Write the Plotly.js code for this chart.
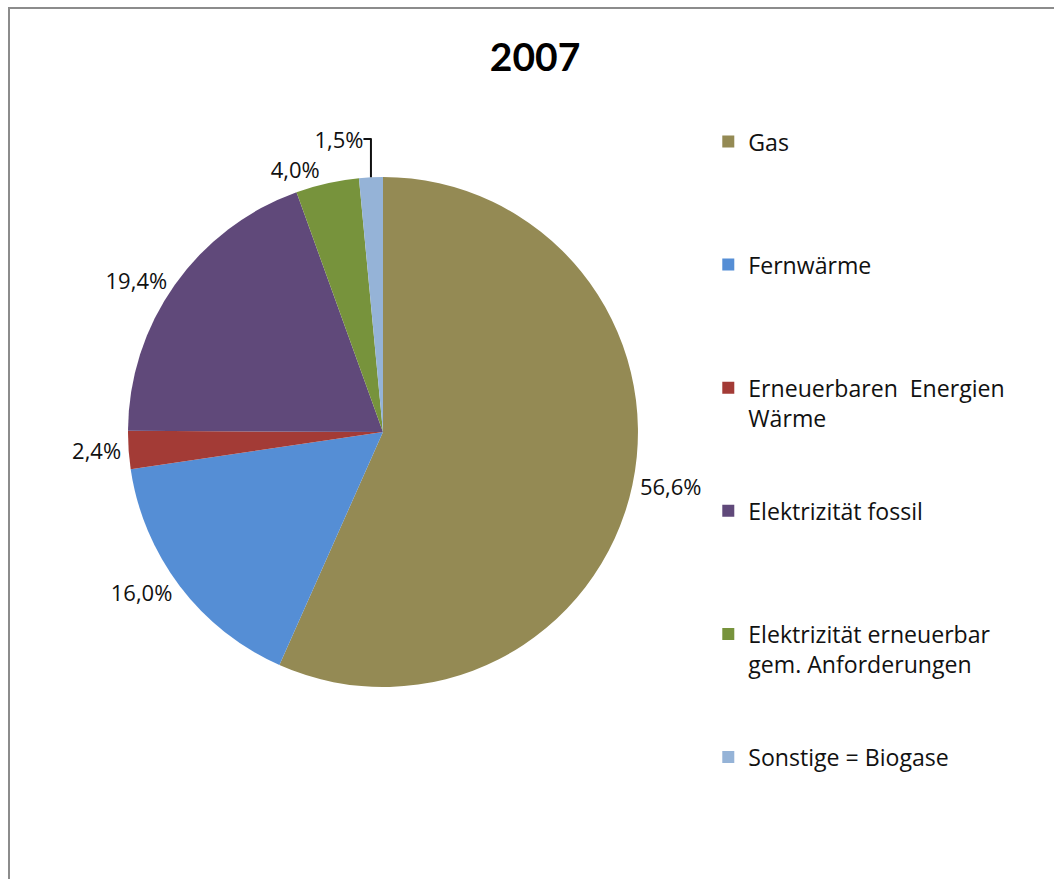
<!DOCTYPE html>
<html>
<head>
<meta charset="utf-8">
<script src="https://cdn.plot.ly/plotly-3.0.1.min.js"></script>
<style>
  html, body { margin: 0; padding: 0; background: #fff; overflow: hidden; }
  #chart { width: 1054px; height: 879px; position: absolute; left: 0; top: 0; }
  #frame { position: absolute; left: 8px; top: 7px; width: 1200px; height: 1000px;
           border: 2px solid #8c8c8c; pointer-events: none; box-sizing: border-box; }
</style>
</head>
<body>
<div id="chart"></div>
<div id="frame"></div>
<script>
// Data (values in percent, clockwise from 12 o'clock)
const chartTitle = "2007";
const categories = [
  "Gas",
  "Fernwärme",
  "Erneuerbaren  Energien<br>Wärme",
  "Elektrizität fossil",
  "Elektrizität erneuerbar<br>gem. Anforderungen",
  "Sonstige = Biogase"
];
const shares = [56.6, 16.0, 2.4, 19.4, 4.0, 1.5];
const colors = ["#948A54", "#558ED5", "#A33B36", "#60497A", "#77933C", "#95B3D7"];

// Pad legend labels to equal line count so entries are evenly spaced
const LINES = 4;
const legendLabels = categories.map(function (c) {
  const n = c.split("<br>").length;
  let s = c;
  for (let i = n; i < LINES; i++) s += "<br>\u00a0";
  return s;
});

const FONT = "'Open Sans', Lato, 'DejaVu Sans', sans-serif";
const TITLE_FONT = "Lato, 'Open Sans', sans-serif";

const trace = {
  type: "pie",
  labels: legendLabels,
  values: shares,
  sort: false,
  direction: "clockwise",
  rotation: 0,
  marker: { colors: colors, line: { width: 0 } },
  textposition: "outside",
  texttemplate: "%{value:.1f}%",
  outsidetextfont: { family: FONT, size: 22, color: "#111" },
  hoverinfo: "label+value",
  domain: { x: [0.1214, 0.6053], y: [0.2184, 0.7986] },
  automargin: false
};

const layout = {
  width: 1054,
  height: 879,
  margin: { l: 0, r: 0, t: 0, b: 0 },
  paper_bgcolor: "#ffffff",
  separators: ",.",
  font: { family: FONT, color: "#111" },
  title: {
    text: "<b>" + chartTitle + "</b>",
    font: { family: TITLE_FONT, size: 39, color: "#000" },
    x: 0.5076, xanchor: "center",
    y: 0.935, yanchor: "middle"
  },
  showlegend: true,
  legend: {
    x: 0.672, xanchor: "left",
    y: 0.8635, yanchor: "top",
    valign: "top",
    font: { family: FONT, size: 23.1, color: "#111" },
    bgcolor: "rgba(0,0,0,0)",
    traceorder: "normal"
  }
};

Plotly.newPlot("chart", [trace], layout, { displayModeBar: false, staticPlot: true });
</script>
</body>
</html>
